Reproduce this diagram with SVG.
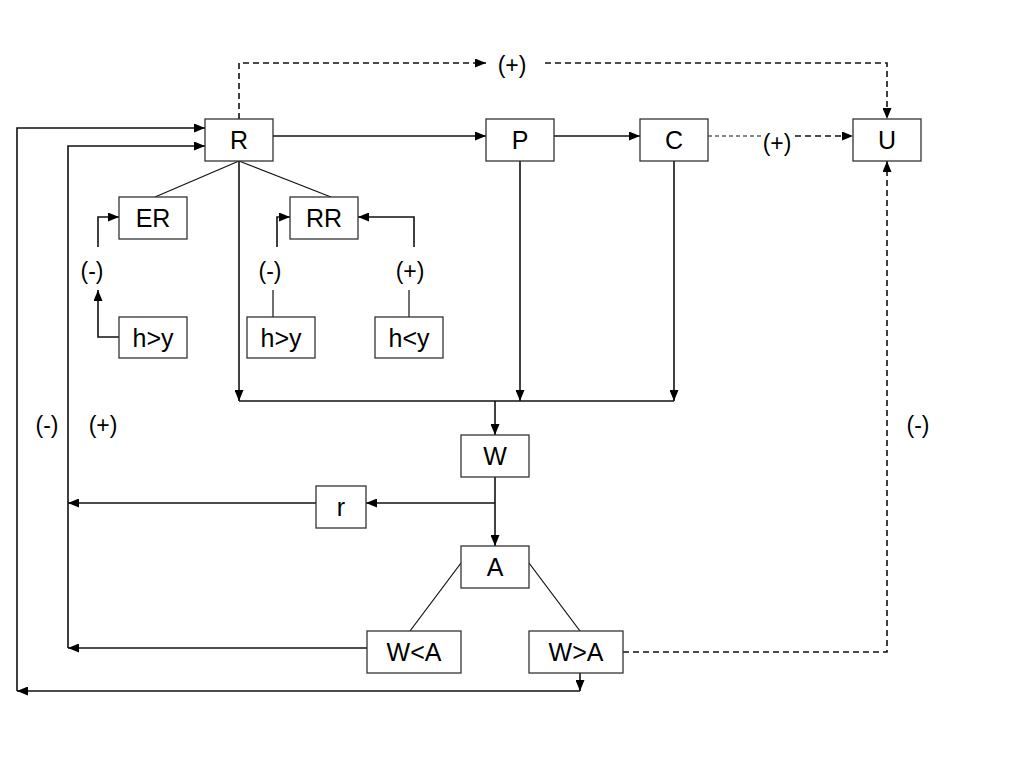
<svg xmlns="http://www.w3.org/2000/svg" width="1024" height="768" viewBox="0 0 1024 768">
<style>
.box{fill:#fff;stroke:#333;stroke-width:1.3}
.t{font-family:"Liberation Sans",Arial,sans-serif;font-size:25px;fill:#000;text-anchor:middle;dominant-baseline:central}
.lb{font-family:"Liberation Sans",Arial,sans-serif;font-size:23px;fill:#000;text-anchor:middle;dominant-baseline:central}
.c{fill:none;stroke:#111;stroke-width:1.6}
.cn{fill:none;stroke:#111;stroke-width:1.2}
.d{fill:none;stroke:#111;stroke-width:1.6;stroke-dasharray:6,4}
.dd{fill:none;stroke:#111;stroke-width:1.2;stroke-dasharray:4,3}
</style>
<defs>
<marker id="a" viewBox="0 0 11 9" refX="11" refY="4.5" markerWidth="11" markerHeight="9" markerUnits="userSpaceOnUse" orient="auto">
<path d="M0,0 L11,4.5 L0,9 z" fill="#000"/>
</marker>
</defs>
<rect width="1024" height="768" fill="#fff"/>
<g id="connectors">
<path class="d" d="M239,119 V63 H486" marker-end="url(#a)"/>
<path class="d" d="M545,63 H887 V119" marker-end="url(#a)"/>
<path class="c" d="M273,136 H486" marker-end="url(#a)"/>
<path class="c" d="M554,136 H640" marker-end="url(#a)"/>
<path class="dd" d="M708,136 H762"/>
<path class="d" d="M795,136 H853" marker-end="url(#a)"/>
<path class="cn" d="M239,161 L155,197"/>
<path class="cn" d="M239,161 L331,197"/>
<path class="c" d="M119,337 H98 V290" marker-end="url(#a)"/>
<path class="c" d="M98,247 V217 H119" marker-end="url(#a)"/>
<path class="cn" d="M273,317 V290"/>
<path class="c" d="M277,247 V217 H290" marker-end="url(#a)"/>
<path class="cn" d="M409,317 V290"/>
<path class="c" d="M414,247 V217 H358" marker-end="url(#a)"/>
<path class="c" d="M239,161 V401" marker-end="url(#a)"/>
<path class="c" d="M520,161 V401" marker-end="url(#a)"/>
<path class="c" d="M674,161 V401" marker-end="url(#a)"/>
<path class="c" d="M239,401 H674"/>
<path class="c" d="M495,401 V435" marker-end="url(#a)"/>
<path class="c" d="M495,477 V546" marker-end="url(#a)"/>
<path class="c" d="M495,503 H366" marker-end="url(#a)"/>
<path class="c" d="M316,503 H68" marker-end="url(#a)"/>
<path class="cn" d="M461,563 L410,631"/>
<path class="cn" d="M529,563 L580,631"/>
<path class="c" d="M367,648 H68" marker-end="url(#a)"/>
<path class="c" d="M68,648 V146 H205" marker-end="url(#a)"/>
<path class="c" d="M580,673 V691" marker-end="url(#a)"/>
<path class="c" d="M580,691 H17" marker-end="url(#a)"/>
<path class="c" d="M17,691 V128 H205" marker-end="url(#a)"/>
<path class="d" d="M623,652 H887 V161" marker-end="url(#a)"/>
</g>
<g id="labels">
<text class="lb" x="512" y="65">(+)</text>
<text class="lb" x="777" y="143">(+)</text>
<text class="lb" x="92" y="271">(-)</text>
<text class="lb" x="270" y="271">(-)</text>
<text class="lb" x="410" y="271">(+)</text>
<text class="lb" x="47" y="425">(-)</text>
<text class="lb" x="103" y="425">(+)</text>
<text class="lb" x="918" y="425">(-)</text>
</g>
<g id="R"><rect class="box" x="205" y="119" width="68" height="42"/><text class="t" x="239" y="140">R</text></g>
<g id="P"><rect class="box" x="486" y="119" width="68" height="42"/><text class="t" x="520" y="140">P</text></g>
<g id="C"><rect class="box" x="640" y="119" width="68" height="42"/><text class="t" x="674" y="140">C</text></g>
<g id="U"><rect class="box" x="853" y="119" width="68" height="42"/><text class="t" x="887" y="140">U</text></g>
<g id="ER"><rect class="box" x="119" y="197" width="68" height="42"/><text class="t" x="153" y="218">ER</text></g>
<g id="RR"><rect class="box" x="290" y="197" width="68" height="42"/><text class="t" x="324" y="218">RR</text></g>
<g id="hy1"><rect class="box" x="119" y="317" width="68" height="41"/><text class="t" x="153" y="338">h&gt;y</text></g>
<g id="hy2"><rect class="box" x="247" y="317" width="68" height="41"/><text class="t" x="281" y="338">h&gt;y</text></g>
<g id="hy3"><rect class="box" x="375" y="317" width="68" height="41"/><text class="t" x="409" y="338">h&lt;y</text></g>
<g id="W"><rect class="box" x="461" y="435" width="68" height="42"/><text class="t" x="495" y="456">W</text></g>
<g id="r"><rect class="box" x="316" y="486" width="50" height="42"/><text class="t" x="341" y="507">r</text></g>
<g id="A"><rect class="box" x="461" y="546" width="68" height="42"/><text class="t" x="495" y="567">A</text></g>
<g id="WltA"><rect class="box" x="367" y="631" width="94" height="42"/><text class="t" x="414" y="652">W&lt;A</text></g>
<g id="WgtA"><rect class="box" x="529" y="631" width="94" height="42"/><text class="t" x="576" y="652">W&gt;A</text></g>
</svg>
